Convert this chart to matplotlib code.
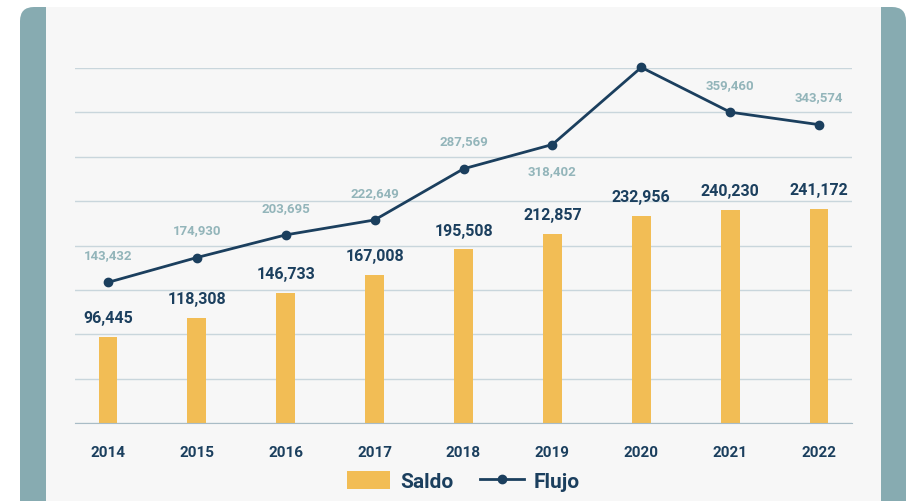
import matplotlib.pyplot as plt
from matplotlib.patches import FancyBboxPatch, Rectangle
from matplotlib.lines import Line2D
from matplotlib.transforms import IdentityTransform

plt.rcParams['font.family'] = ['Roboto', 'DejaVu Sans']

# Data
years = ["2014", "2015", "2016", "2017", "2018", "2019", "2020", "2021", "2022"]
saldo = [96445, 118308, 146733, 167008, 195508, 212857, 232956, 240230, 241172]
flujo = [143432, 174930, 203695, 222649, 287569, 318402, 416297, 359460, 343574]

bar_color = "#f2bd55"
line_color = "#1b3f5e"
label_light = "#93b5ba"
grid_color = "#c9d6dc"
teal = "#87abb1"
panel = "#f7f7f7"

W, H = 906, 502
fig = plt.figure(figsize=(W / 100, H / 100), dpi=100)
fig.patch.set_facecolor("white")

# frame: teal rounded band with a light panel inside (pixel coords)
frame = FancyBboxPatch((20, -30), 886, 524,
                       boxstyle="round,pad=0,rounding_size=14",
                       transform=IdentityTransform(), facecolor=teal,
                       edgecolor="none", zorder=-3)
fig.patches.append(frame)
fig.patches.append(Rectangle((46, 0), 835, 494, transform=IdentityTransform(),
                             facecolor=panel, edgecolor="none", zorder=-2))

ax = fig.add_axes([75 / W, 78 / H, 777 / W, 355 / H])
ax.set_facecolor("none")
x = list(range(len(years)))

ax.bar(x, saldo, width=0.21, color=bar_color, zorder=2)
ax.set_xlim(-0.37, len(years) - 1 + 0.37)
ax.set_ylim(0, 400000)
ax.set_yticks(range(0, 400001, 50000))
ax.yaxis.grid(True, color=grid_color, linewidth=1)
ax.set_axisbelow(True)
ax.set_xticks(x)
ax.set_xticklabels(years, fontweight="bold")
for s in ["top", "right", "left"]:
    ax.spines[s].set_visible(False)
ax.spines["bottom"].set_color("#a9bcc6")

for xi, v in zip(x, saldo):
    ax.annotate(f"{v:,}", (xi, v), xytext=(0, 14), textcoords="offset points",
                ha="center", va="center", fontsize=11.5, color=line_color,
                fontweight="bold")

# flujo on its own scale
ax2 = ax.twinx()
ax2.set_ylim(-35000, 415500)
ax2.axis("off")
ax2.plot(x, flujo, color=line_color, linewidth=2, marker="o", markersize=6,
         zorder=3, clip_on=False)
for xi, v in zip(x, flujo):
    dy = -19 if years[xi] == "2019" else 20
    ax2.annotate(f"{v:,}", (xi, v), xytext=(0, dy), textcoords="offset points",
                 ha="center", va="center", fontsize=9.5, color=label_light,
                 fontweight="bold")

ax.tick_params(axis="y", left=False, right=False, labelleft=False)
ax.tick_params(axis="x", bottom=False, pad=12, labelsize=11, labelcolor=line_color)

handles = [Rectangle((0, 0), 1, 1, facecolor=bar_color),
           Line2D([], [], color=line_color, linewidth=2, marker="o", markersize=6)]
fig.legend(handles, ["Saldo", "Flujo"], loc="center", bbox_to_anchor=(463 / W, 1 - 482 / H),
           ncol=2, frameon=False, labelcolor=line_color,
           handlelength=2.1, handleheight=1.0, columnspacing=1.3, handletextpad=0.45,
           prop={"weight": "bold", "size": 15})

fig.savefig("out.png", dpi=100, facecolor=fig.get_facecolor())
